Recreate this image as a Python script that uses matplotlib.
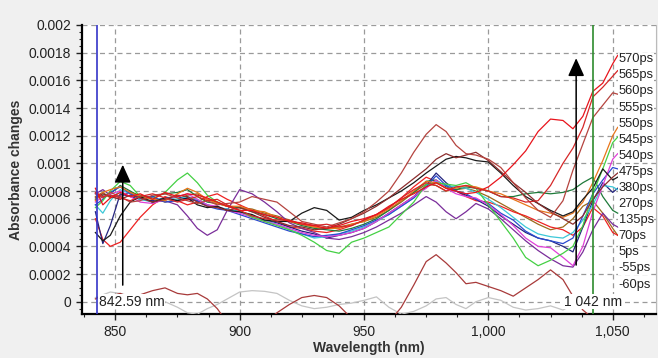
import matplotlib
matplotlib.use("Agg")
import matplotlib.pyplot as plt
from matplotlib.ticker import FixedLocator, MultipleLocator, FuncFormatter
import numpy as np

plt.rcParams['font.family'] = ['Liberation Sans', 'DejaVu Sans']

# wavelength grid (nm)
wavelength = [842, 845, 848, 852, 856, 860, 865, 870, 875, 879, 883, 887, 891, 895, 900,
              905, 910, 915, 920, 925, 930, 935, 940, 945, 950, 955, 960, 965, 970, 975,
              979, 983, 987, 991, 995, 1000, 1005, 1010, 1015, 1020, 1025, 1030, 1034,
              1038, 1042, 1046, 1050, 1052]

# absorbance changes, in units of 1e-4
s_570 = [8.2, 7.0, 7.5, 7.9, 7.6, 7.8, 7.4, 7.9, 7.6, 7.8, 7.7, 7.5, 7.2, 6.9, 6.6, 6.6, 6.3, 6.1,
         5.8, 5.7, 5.5, 5.3, 5.5, 5.8, 6.0, 6.3, 6.9, 7.4, 7.8, 8.3, 8.6, 8.2, 8.0, 7.8, 7.9, 8.3,
         9.0, 9.9, 10.9, 12.3, 13.2, 13.1, 12.5, 13.4, 15.2, 15.8, 17.2, 17.8]
s_565 = [7.9, 7.6, 7.7, 7.5, 7.3, 7.6, 7.8, 7.5, 7.2, 7.4, 7.6, 7.3, 7.4, 7.0, 6.6, 6.2, 6.0, 5.9,
         5.9, 5.6, 5.5, 5.6, 5.4, 5.5, 5.9, 6.3, 6.8, 7.5, 8.1, 8.6, 8.4, 8.0, 8.3, 8.4, 8.2, 8.0,
         7.6, 7.5, 7.2, 7.3, 8.4, 10.0, 11.1, 12.6, 14.8, 15.5, 16.3, 16.7]
s_560 = [7.8, 7.5, 7.9, 7.6, 7.2, 7.3, 7.7, 7.8, 7.5, 7.3, 7.1, 7.3, 7.0, 7.1, 7.2, 7.6, 7.4, 7.2,
         6.5, 5.8, 5.6, 5.4, 5.7, 6.0, 6.5, 7.2, 8.0, 9.3, 10.8, 12.1, 12.8, 12.3, 11.3, 10.7, 10.6,
         10.3, 9.7, 8.6, 7.5, 6.6, 6.1, 7.3, 9.5, 11.4, 13.3, 14.2, 15.1, 15.0]
s_555 = [7.5, 7.8, 7.6, 7.4, 7.7, 7.5, 7.2, 7.4, 7.7, 7.6, 7.2, 6.9, 6.8, 6.6, 6.8, 6.5, 6.1, 5.8,
         5.5, 5.4, 5.2, 5.3, 5.6, 6.0, 6.4, 6.9, 7.5, 8.2, 8.9, 9.6, 10.3, 10.7, 10.4, 10.6, 10.8,
         10.2, 9.4, 8.6, 7.9, 7.1, 6.5, 6.0, 5.6, 6.2, 7.4, 8.3, 9.0, 9.3]
s_550 = [5.0, 4.4, 4.8, 6.2, 7.2, 7.6, 7.2, 7.5, 7.3, 7.5, 7.0, 6.8, 6.9, 6.6, 6.5, 6.3, 5.9, 5.8,
         5.8, 6.4, 6.8, 6.6, 5.9, 6.1, 6.6, 7.0, 7.5, 8.0, 8.6, 9.3, 9.8, 10.3, 10.5, 10.4, 10.2,
         10.1, 9.3, 8.4, 7.6, 7.1, 6.6, 6.2, 6.5, 7.4, 8.2, 9.6, 8.8, 9.0]
s_545 = [7.3, 7.9, 8.1, 8.3, 7.9, 7.6, 7.4, 7.3, 7.8, 8.2, 7.9, 7.4, 7.1, 6.9, 6.9, 6.6, 6.5, 6.1,
         5.8, 5.6, 5.4, 5.3, 5.3, 5.6, 5.8, 6.2, 6.7, 7.3, 8.0, 8.7, 8.6, 8.2, 8.2, 8.4, 8.3, 8.0,
         7.8, 7.4, 7.0, 6.6, 6.4, 6.1, 6.4, 7.2, 8.6, 10.2, 12.0, 12.6]
s_540 = [6.8, 7.3, 8.0, 8.7, 8.4, 7.6, 7.4, 7.9, 8.8, 9.3, 8.6, 7.7, 7.2, 6.9, 6.6, 6.1, 5.8, 5.5,
         5.2, 4.8, 4.3, 3.7, 3.5, 4.3, 4.6, 5.0, 5.4, 6.3, 7.2, 8.5, 8.6, 8.5, 8.4, 8.6, 8.2, 7.0,
         5.8, 4.6, 3.2, 2.6, 3.0, 3.5, 4.0, 5.5, 7.8, 9.6, 11.5, 11.9]
s_475 = [7.2, 7.6, 7.8, 8.0, 7.6, 7.2, 7.1, 7.4, 7.6, 7.8, 7.4, 7.0, 6.9, 6.6, 6.4, 6.1, 5.8, 5.6,
         5.3, 5.0, 4.8, 4.7, 4.8, 5.0, 5.3, 5.8, 6.4, 7.0, 7.6, 8.2, 8.8, 8.2, 7.8, 7.6, 7.5, 7.0,
         6.3, 5.5, 4.6, 4.0, 3.9, 3.2, 2.6, 4.0, 6.5, 8.4, 10.3, 10.7]
s_380 = [7.0, 7.4, 7.9, 8.3, 7.8, 7.5, 7.6, 7.2, 7.3, 7.5, 7.3, 6.9, 6.7, 6.6, 6.3, 6.0, 5.7, 5.4,
         5.1, 4.9, 4.7, 4.8, 4.9, 5.2, 5.5, 5.9, 6.3, 6.9, 7.5, 8.3, 9.1, 8.4, 8.0, 7.8, 7.4, 7.1,
         6.4, 5.9, 5.1, 4.6, 4.4, 4.2, 4.6, 6.2, 7.8, 8.8, 9.7, 9.6]
s_270 = [7.0, 6.4, 7.3, 8.1, 7.8, 7.4, 7.2, 7.5, 7.4, 7.6, 7.4, 7.0, 6.8, 6.7, 6.5, 6.2, 5.9, 5.6,
         5.2, 4.9, 4.6, 4.7, 4.9, 5.1, 5.4, 5.8, 6.3, 6.9, 7.5, 8.4, 8.7, 8.4, 8.3, 8.2, 7.9, 7.4,
         6.8, 6.1, 5.4, 4.9, 4.7, 4.6, 5.0, 5.9, 7.0, 8.4, 8.3, 8.1]
s_135 = [7.4, 7.7, 7.8, 8.4, 8.0, 7.6, 7.6, 7.8, 7.9, 8.1, 7.6, 7.2, 7.1, 6.9, 6.8, 6.5, 6.3, 6.0,
         5.8, 5.5, 5.3, 5.2, 5.1, 5.3, 5.6, 6.0, 6.6, 7.3, 7.9, 8.7, 8.8, 8.3, 8.1, 8.3, 8.2, 8.0,
         7.6, 7.6, 7.8, 7.9, 7.8, 7.9, 8.1, 8.6, 9.0, 7.6, 6.6, 6.4]
s_70 = [7.8, 8.1, 7.7, 7.6, 7.9, 7.5, 7.2, 7.3, 7.0, 6.2, 5.3, 4.8, 5.2, 6.6, 8.1, 7.8, 7.2, 6.5,
        5.7, 5.3, 5.0, 4.6, 4.5, 4.7, 5.0, 5.4, 5.9, 6.4, 7.0, 7.6, 7.2, 6.5, 6.0, 6.5, 7.1, 6.7,
        6.0, 5.2, 4.4, 3.7, 3.1, 2.6, 2.5, 3.6, 5.2, 6.4, 5.6, 5.4]
s_5 = [6.5, 4.2, 5.5, 7.8, 7.6, 7.4, 7.3, 7.5, 7.6, 7.4, 7.3, 7.0, 6.8, 6.7, 6.5, 6.2, 5.9, 5.7,
       5.4, 5.1, 4.9, 4.6, 4.8, 5.0, 5.3, 5.8, 6.4, 7.0, 7.6, 8.4, 9.3, 8.6, 8.0, 7.7, 7.4, 6.9,
       6.2, 5.6, 5.0, 4.6, 4.4, 4.0, 3.6, 5.4, 7.3, 8.6, 7.9, 8.2]
s_red2 = [6.0, 4.5, 4.0, 4.3, 5.2, 6.1, 7.0, 7.6, 7.3, 7.0, 7.2, 7.6, 7.8, 7.4, 7.0, 6.6, 6.2, 5.8,
          5.4, 5.3, 5.1, 5.0, 5.2, 5.5, 5.9, 6.3, 6.8, 7.5, 8.3, 9.0, 8.7, 8.2, 8.0, 7.6, 7.3, 7.2,
          6.9, 6.5, 6.2, 5.8, 5.4, 5.2, 4.8, 5.4, 6.8, 6.2, 5.0, 4.8]
s_olive = [7.6, 7.9, 7.5, 7.7, 7.9, 7.7, 7.5, 7.2, 7.4, 7.7, 7.8, 7.4, 7.2, 6.9, 6.8, 6.7, 6.4, 6.2,
           5.9, 5.6, 5.4, 5.3, 5.4, 5.6, 5.8, 6.1, 6.6, 7.2, 7.9, 8.5, 8.4, 8.0, 8.1, 8.2, 8.0, 7.6,
           7.1, 6.6, 6.1, 5.6, 5.2, 5.4, 6.0, 6.9, 7.3, 6.4, 5.3, 4.8]
s_m55 = [0.2, 0.5, 0.4, 0.6, 0.3, 0.5, 0.8, 1.0, 0.6, 0.5, 0.6, 0.2, -0.5, -1.5, -2.0, -2.0, -1.5,
         -0.8, -0.2, 0.3, 0.45, 0.3, -0.3, -1.2, -2.0, -2.0, -1.5, -0.4, 1.2, 2.9, 3.4, 2.8, 2.1,
         1.3, 1.4, 1.1, 0.8, 0.4, 1.0, 1.6, 2.3, 1.6, 0.4, -0.6, -1.2, -1.5, -1.6, -1.6]
s_m60 = [0.3, 0.5, 0.7, 0.6, 0.4, 0.5, 0.3, 0.0, -0.4, -0.8, -0.9, -0.5, -0.2, 0.2, 0.7, 0.8, 0.75,
         0.6, 0.1, -0.3, -0.5, -0.4, -0.2, -0.1, 0.1, 0.35, -0.4, -0.9, -0.7, -0.3, 0.2, 0.3, -0.2,
         -0.5, 0.0, 0.3, 0.1, -0.4, -0.6, -0.5, -0.3, -0.6, -0.2, 0.1, 0.3, -0.2, -0.5, -0.4]

series = [
    (s_m60, '#c4c4c4'), (s_m55, '#a83a3a'),
    (s_olive, '#9c6a1c'), (s_red2, '#ee2222'), (s_5, '#24247e'), (s_70, '#7a2d9a'),
    (s_135, '#1f7a3a'), (s_270, '#3cc8d8'), (s_380, '#2a4ad0'), (s_475, '#e040d8'),
    (s_540, '#44d044'), (s_545, '#e8751a'), (s_550, '#1a1a1a'), (s_555, '#8c2d2d'),
    (s_560, '#b5443f'), (s_565, '#d62728'), (s_570, '#e8141c'),
]

time_labels = ['570ps', '565ps', '560ps', '555ps', '550ps', '545ps', '540ps', '475ps',
               '380ps', '270ps', '135ps', '70ps', '5ps', '-55ps', '-60ps']

cursor_left = 842.59
cursor_right = 1042
x_ticks = [850, 900, 950, 1000, 1050]
x_tick_labels = ['850', '900', '950', '1,000', '1,050']
y_ticks = [0, 0.0002, 0.0004, 0.0006, 0.0008, 0.001, 0.0012, 0.0014, 0.0016, 0.0018, 0.002]
y_tick_labels = ['0', '0.0002', '0.0004', '0.0006', '0.0008', '0.001', '0.0012', '0.0014',
                 '0.0016', '0.0018', '0.002']

W, H = 658, 358
fig = plt.figure(figsize=(W / 100, H / 100), dpi=100, facecolor='#f0f0f0')
ax = fig.add_axes([81.7 / W, 1 - 314.3 / H, (656 - 81.7) / W, (314.3 - 25) / H])
ax.set_facecolor('white')

wl = np.array(wavelength)
for vals, col in series:
    ax.plot(wl, np.array(vals) * 1e-4, color=col, lw=0.9, zorder=3)

ax.set_xlim(836.5, 1067.4)
ax.set_ylim(-0.000091, 0.002)

ax.set_xticks(x_ticks)
ax.set_xticklabels(x_tick_labels)
ax.set_yticks(y_ticks)
ax.set_yticklabels(y_tick_labels)
ax.xaxis.set_minor_locator(MultipleLocator(12.5))
ax.yaxis.set_minor_locator(MultipleLocator(0.00005))
ax.tick_params(axis='both', which='major', labelsize=10, length=4, width=1, colors='#222222',
               labelcolor='#222222', direction='out')
ax.tick_params(axis='both', which='minor', length=2.5, width=0.8, colors='#222222')
ax.grid(True, which='major', color='#9a9a9a', linestyle=(0, (4, 3)), lw=0.9, zorder=1)

for side in ['left', 'bottom']:
    ax.spines[side].set_linewidth(1.6)
    ax.spines[side].set_color('black')
ax.spines['top'].set_visible(False)
ax.spines['right'].set_linewidth(0.8)
ax.spines['right'].set_color('#bbbbbb')

ax.set_xlabel('Wavelength (nm)', fontsize=10, fontweight='bold', color='#333333', labelpad=2)
ax.set_ylabel('Absorbance changes', fontsize=10, fontweight='bold', color='#333333', labelpad=4)

# cursor lines
ax.axvline(cursor_left, color='#3535c8', lw=1.2, zorder=4)
ax.axvline(cursor_right, color='#2e8b2e', lw=1.2, zorder=4)

ax.text(cursor_left + 0.8, 0.0, '842.59 nm', fontsize=10, color='#222222', ha='left',
        va='center', zorder=5, bbox=dict(facecolor='white', edgecolor='none', pad=0.5))
ax.text(cursor_right, 0.0, '1 042 nm', fontsize=10, color='#222222', ha='center',
        va='center', zorder=5, bbox=dict(facecolor='white', edgecolor='none', pad=0.5))

# arrows
arrow_style = dict(arrowstyle='-|>,head_length=1.1,head_width=0.5', color='black', lw=1.1,
                   mutation_scale=10, shrinkA=0, shrinkB=0)
ax.annotate('', xy=(853, 0.00099), xytext=(853, 0.00012), arrowprops=arrow_style, zorder=6)
ax.annotate('', xy=(1035.3, 0.00176), xytext=(1035.3, 0.000265), arrowprops=arrow_style, zorder=6)

# time labels
for i, lab in enumerate(time_labels):
    ax.text(1052.4, 0.001752 - i * 0.0001163, lab, fontsize=9.3, color='#222222', ha='left',
            va='center', zorder=5, bbox=dict(facecolor='white', edgecolor='none', pad=0.3))

fig.savefig('out.png', dpi=100, facecolor=fig.get_facecolor())
